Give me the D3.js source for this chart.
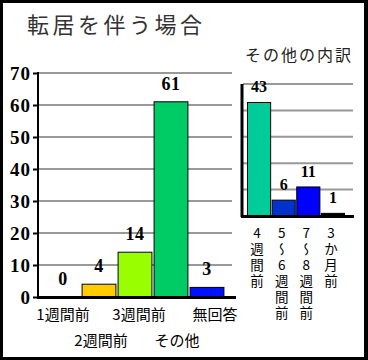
<!DOCTYPE html>
<html>
<head>
<meta charset="utf-8">
<script src="https://cdn.jsdelivr.net/npm/d3@7"></script>
<style>
  body { margin: 0; background: #fff; }
  svg { display: block; }
</style>
</head>
<body>
<script>
// main chart data
var categories = ["1週間前", "2週間前", "3週間前", "その他", "無回答"];
var values = [0, 4, 14, 61, 3];
var barColors = ["#ffffff", "#ffcc00", "#99ff00", "#00cc66", "#0011ff"];
var yTicks = [0, 10, 20, 30, 40, 50, 60, 70];

// inset ("その他の内訳")
var subCategories = ["4週間前", "5〜6週間前", "7〜8週間前", "3か月前"];
var subValues = [43, 6, 11, 1];
var subColors = ["#00cc99", "#0033cc", "#0000ff", "#000000"];
var subGrid = [10, 20, 30, 40, 50];

var W = 368, H = 360;
var serif = "'Liberation Serif', 'Times New Roman', serif";
var jp = "'Noto Sans CJK JP', sans-serif";

var svg = d3.select("body").append("svg")
    .attr("width", W)
    .attr("height", H);

// frame
svg.append("rect").attr("width", W).attr("height", H).attr("fill", "#000");
svg.append("rect").attr("x", 3).attr("y", 3).attr("width", 361).attr("height", 354).attr("fill", "#fff");

// titles
svg.append("text")
    .attr("x", 27).attr("y", 33)
    .style("font-family", jp).style("font-size", "22px")
    .style("letter-spacing", "3.5px")
    .attr("fill", "#333")
    .text("転居を伴う場合");

svg.append("text")
    .attr("x", 245).attr("y", 61)
    .style("font-family", jp).style("font-size", "16px")
    .style("letter-spacing", "2px")
    .attr("fill", "#222")
    .text("その他の内訳");

// ---------- main chart ----------
var y = d3.scaleLinear().domain([0, 70]).range([297, 73]);
var x = d3.scaleBand().domain(categories).range([45, 225]).paddingInner(0.06).paddingOuter(0.03);
var xLab = d3.scaleBand().domain(categories).range([44, 234]);

var main = svg.append("g");

// gridlines
main.selectAll(".grid")
    .data(yTicks.filter(d => d > 0))
    .enter().append("line")
    .attr("x1", 38).attr("x2", 232)
    .attr("y1", d => y(d)).attr("y2", d => y(d))
    .attr("stroke", "#999").attr("stroke-width", 2);

// y axis
var yAxis = main.append("g")
    .attr("transform", "translate(38,0)")
    .call(d3.axisLeft(y).tickValues(yTicks).tickSize(5).tickPadding(2));
yAxis.select(".domain").attr("stroke-width", 2).attr("d", "M0," + (y(70) - 1) + "V" + (y(0) + 1));
yAxis.selectAll(".tick line").attr("stroke-width", 2);
yAxis.selectAll("text")
    .style("font-family", serif).style("font-size", "19px").style("font-weight", "bold")
    .style("letter-spacing", "1px")
    .attr("fill", "#000");

// bars
main.selectAll(".bar")
    .data(values)
    .enter().append("rect")
    .attr("x", (d, i) => x(categories[i]))
    .attr("y", d => y(d))
    .attr("width", x.bandwidth())
    .attr("height", d => y(0) - y(d))
    .attr("fill", (d, i) => barColors[i])
    .attr("stroke", d => d > 0 ? "#000" : "none")
    .attr("stroke-width", 1);

// baseline
main.append("line")
    .attr("x1", 37).attr("x2", 236)
    .attr("y1", y(0) + 0.5).attr("y2", y(0) + 0.5)
    .attr("stroke", "#000").attr("stroke-width", 3);

// value labels
main.selectAll(".val")
    .data(values)
    .enter().append("text")
    .attr("x", (d, i) => x(categories[i]) + x.bandwidth() / 2)
    .attr("y", d => y(d) - 12)
    .attr("text-anchor", "middle")
    .style("font-family", serif).style("font-size", "18px").style("font-weight", "bold")
    .style("letter-spacing", "0.5px")
    .text(d => d);

// category labels, staggered on two rows
main.selectAll(".cat")
    .data(categories)
    .enter().append("text")
    .attr("x", d => xLab(d) + xLab.bandwidth() / 2)
    .attr("y", (d, i) => i % 2 == 0 ? 319.5 : 345.5)
    .attr("text-anchor", "middle")
    .style("font-family", jp).style("font-size", "15px")
    .text(d => d);

// ---------- inset chart ----------
var y2 = d3.scaleLinear().domain([0, 50]).range([216, 84]);
var x2 = d3.scaleBand().domain(subCategories).range([247, 345]).paddingInner(0.06).paddingOuter(0.02);

var inset = svg.append("g");

inset.selectAll(".grid2")
    .data(subGrid)
    .enter().append("line")
    .attr("x1", 243).attr("x2", 353)
    .attr("y1", d => y2(d)).attr("y2", d => y2(d))
    .attr("stroke", "#999").attr("stroke-width", 2);

inset.append("line")
    .attr("x1", 242).attr("x2", 242)
    .attr("y1", y2(50)).attr("y2", y2(0) + 1)
    .attr("stroke", "#000").attr("stroke-width", 3);

inset.selectAll(".bar2")
    .data(subValues)
    .enter().append("rect")
    .attr("x", (d, i) => x2(subCategories[i]))
    .attr("y", d => y2(d))
    .attr("width", x2.bandwidth())
    .attr("height", d => y2(0) - y2(d))
    .attr("fill", (d, i) => subColors[i])
    .attr("stroke", "#000")
    .attr("stroke-width", 1);

inset.append("line")
    .attr("x1", 241).attr("x2", 354)
    .attr("y1", y2(0) + 0.5).attr("y2", y2(0) + 0.5)
    .attr("stroke", "#000").attr("stroke-width", 3);

inset.selectAll(".val2")
    .data(subValues)
    .enter().append("text")
    .attr("x", (d, i) => x2(subCategories[i]) + x2.bandwidth() / 2)
    .attr("y", d => y2(d) - 10)
    .attr("text-anchor", "middle")
    .style("font-family", serif).style("font-size", "16px").style("font-weight", "bold")
    .text(d => d);

// vertical category labels
inset.selectAll(".cat2")
    .data(subCategories)
    .enter().append("text")
    .attr("x", d => x2(d) + x2.bandwidth() / 2 - 2)
    .attr("y", 226)
    .style("writing-mode", "vertical-rl")
    .style("text-orientation", "upright")
    .style("font-family", jp).style("font-size", "13.5px")
    .style("letter-spacing", "2.5px")
    .text(d => d);
</script>
</body>
</html>
